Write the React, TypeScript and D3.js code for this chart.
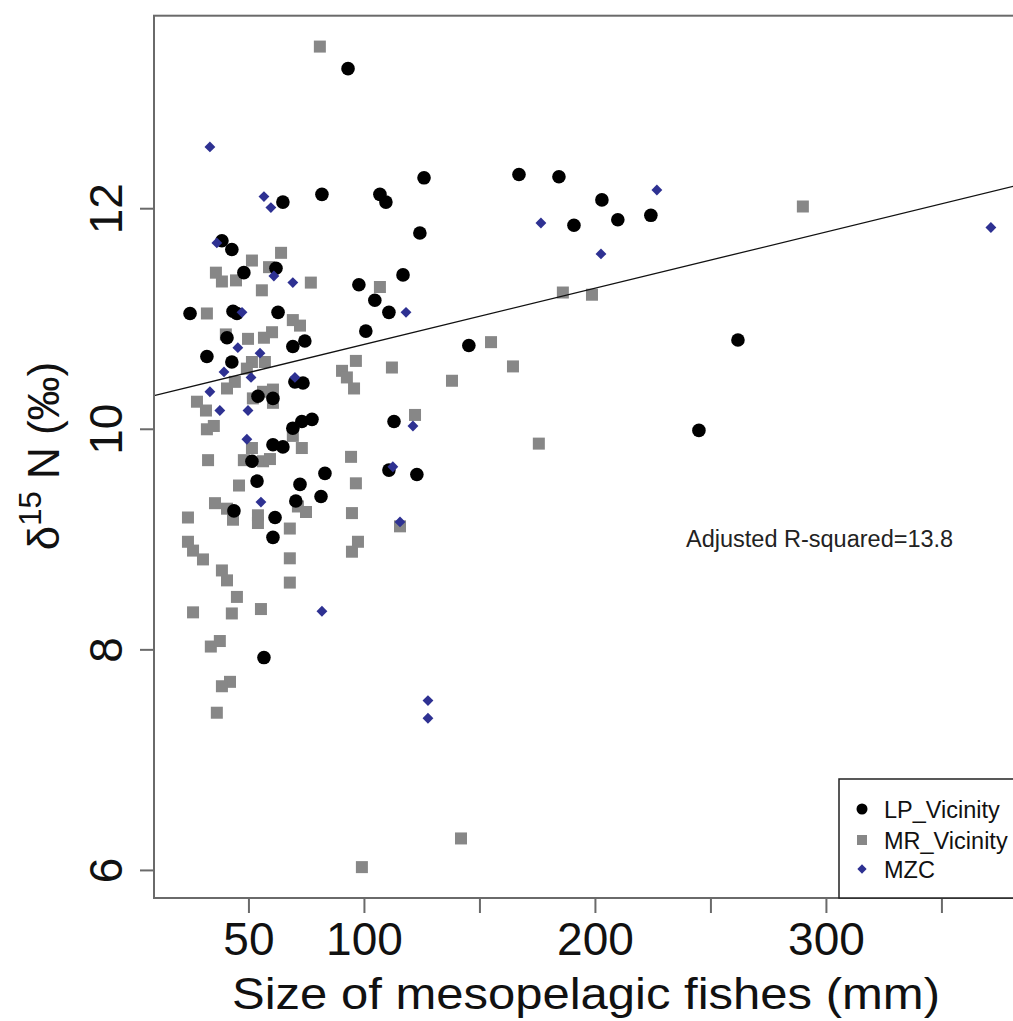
import React from "react";
import * as d3 from "d3";

const lpX = [92.9, 81.6, 106.7, 109.3, 64.7, 125.8, 166.9, 184.2, 202.8, 209.7, 224.0, 190.7, 124.0, 116.7, 97.6, 104.5, 110.6, 100.6, 145.2, 261.7, 244.8, 38.3, 42.6, 47.8, 61.7, 24.5, 43.1, 44.8, 62.6, 40.5, 69.0, 74.2, 31.8, 42.6, 69.9, 73.4, 53.9, 60.4, 69.0, 72.9, 77.3, 112.8, 60.4, 64.7, 51.3, 82.9, 53.5, 72.1, 81.2, 70.3, 43.5, 61.3, 60.4, 110.6, 122.7, 56.5];
const lpY = [13.27, 12.13, 12.13, 12.06, 12.06, 12.28, 12.31, 12.29, 12.08, 11.90, 11.94, 11.85, 11.78, 11.40, 11.31, 11.17, 11.06, 10.89, 10.76, 10.81, 9.99, 11.71, 11.63, 11.42, 11.46, 11.05, 11.07, 11.05, 11.06, 10.83, 10.75, 10.80, 10.66, 10.61, 10.43, 10.42, 10.30, 10.28, 10.01, 10.07, 10.09, 10.07, 9.86, 9.84, 9.71, 9.60, 9.53, 9.50, 9.39, 9.35, 9.26, 9.20, 9.02, 9.63, 9.59, 7.93];

const mrX = [80.7, 63.9, 51.3, 58.7, 35.7, 38.3, 44.4, 76.8, 55.6, 31.8, 69.0, 72.1, 60.0, 56.5, 49.6, 106.7, 40.0, 96.3, 111.9, 90.3, 92.4, 95.5, 51.3, 56.9, 49.1, 43.9, 40.5, 27.5, 31.4, 51.7, 56.1, 60.4, 60.4, 31.8, 34.8, 51.3, 69.0, 72.9, 32.3, 47.8, 56.1, 59.1, 94.2, 45.7, 96.3, 35.3, 40.5, 43.1, 53.9, 53.9, 67.7, 71.2, 74.7, 23.6, 94.6, 23.6, 25.8, 30.1, 38.3, 40.5, 44.8, 67.7, 67.7, 97.2, 94.6, 25.8, 42.6, 55.2, 33.5, 37.4, 41.8, 38.3, 36.1, 98.9, 141.8, 121.9, 115.4, 154.8, 164.3, 137.9, 175.5, 185.9, 198.5, 289.8];
const mrY = [13.47, 11.60, 11.53, 11.47, 11.42, 11.34, 11.35, 11.33, 11.26, 11.05, 10.99, 10.94, 10.88, 10.83, 10.82, 11.29, 10.86, 10.62, 10.56, 10.53, 10.47, 10.37, 10.61, 10.61, 10.55, 10.43, 10.37, 10.25, 10.17, 10.28, 10.34, 10.36, 10.24, 10.00, 10.03, 9.83, 9.94, 9.83, 9.72, 9.72, 9.71, 9.73, 9.75, 9.49, 9.51, 9.33, 9.28, 9.18, 9.22, 9.15, 9.10, 9.30, 9.25, 9.20, 9.24, 8.98, 8.90, 8.82, 8.72, 8.63, 8.48, 8.83, 8.61, 8.98, 8.89, 8.34, 8.33, 8.37, 8.03, 8.08, 7.71, 7.67, 7.43, 6.03, 6.29, 10.13, 9.12, 10.79, 10.57, 10.44, 9.87, 11.24, 11.22, 12.02];

const mzcX = [33.1, 56.5, 59.5, 36.1, 69.0, 60.8, 47.0, 45.2, 54.8, 39.2, 50.9, 69.9, 33.1, 37.4, 49.6, 49.1, 55.2, 81.6, 112.3, 121.0, 115.4, 127.5, 127.5, 176.4, 202.4, 226.6, 371.2, 118.0];
const mzcY = [12.56, 12.11, 12.01, 11.69, 11.33, 11.39, 11.06, 10.74, 10.69, 10.52, 10.47, 10.47, 10.34, 10.17, 10.17, 9.91, 9.34, 8.35, 9.66, 10.03, 9.16, 7.54, 7.38, 11.87, 11.59, 12.17, 11.83, 11.06];

const xTickValues = [50, 100, 150, 200, 250, 300, 350];
const xTickLabels = ["50", "100", "", "200", "", "300", ""];
const yTickValues = [6, 8, 10, 12];
const yTickLabels = ["6", "8", "10", "12"];

const fitIntercept = 10.26;
const fitSlope = 0.0051;

const legendNames = ["LP_Vicinity", "MR_Vicinity", "MZC"];
const annotation = "Adjusted R-squared=13.8";

const FONT = "'Liberation Sans', Arial, Helvetica, sans-serif";

export default function App() {
  const W = 1013;
  const H = 1021;
  const left = 154;
  const right = 1020;
  const top = 15.7;
  const bottom = 898;

  const x = d3.scaleLinear().domain([8.9, 383.8]).range([left, right]);
  const y = d3.scaleLinear().domain([5.75, 13.75]).range([bottom, top]);

  const axisColor = "#6a6a6a";
  const gray = "#878787";
  const navy = "#2E3192";

  const diamond = d3.symbol().type(d3.symbolDiamond2).size(75)();

  const xMin = x.domain()[0];
  const xMax = x.domain()[1];

  const legendY = [809, 840, 869];

  return (
    <svg
      width={W}
      height={H}
      style={{ position: "absolute", left: 0, top: 0, display: "block", background: "#fff" }}
      fontFamily={FONT}
    >
      <defs>
        <clipPath id="plotclip">
          <rect x={left} y={top} width={right - left} height={bottom - top} />
        </clipPath>
      </defs>
      <rect x={0} y={0} width={W} height={H} fill="#fff" />

      <g clipPath="url(#plotclip)">
        {mrX.map((v, i) => (
          <rect key={"mr" + i} x={x(v) - 6} y={y(mrY[i]) - 6} width={12} height={12} fill={gray} />
        ))}
        {lpX.map((v, i) => (
          <circle key={"lp" + i} cx={x(v)} cy={y(lpY[i])} r={6.8} fill="#000" />
        ))}
        {mzcX.map((v, i) => (
          <path key={"mz" + i} d={diamond as string} transform={`translate(${x(v)},${y(mzcY[i])})`} fill={navy} />
        ))}
        <line
          x1={x(xMin)}
          y1={y(fitIntercept + fitSlope * xMin)}
          x2={x(xMax)}
          y2={y(fitIntercept + fitSlope * xMax)}
          stroke="#111"
          strokeWidth={1.3}
        />
      </g>

      {/* plot box */}
      <rect x={left} y={top} width={right - left} height={bottom - top} fill="none" stroke={axisColor} strokeWidth={2} />

      {/* x axis ticks */}
      {xTickValues.map((v, i) => (
        <g key={"xt" + i}>
          <line x1={x(v)} x2={x(v)} y1={bottom} y2={bottom + 15} stroke={axisColor} strokeWidth={2} />
          {xTickLabels[i] ? (
            <text x={x(v)} y={955} textAnchor="middle" fontSize={46} fill="#111">
              {xTickLabels[i]}
            </text>
          ) : null}
        </g>
      ))}

      {/* y axis ticks */}
      {yTickValues.map((v, i) => (
        <g key={"yt" + i}>
          <line x1={left - 14} x2={left} y1={y(v)} y2={y(v)} stroke={axisColor} strokeWidth={2} />
          <text
            transform={`translate(122,${y(v)}) rotate(-90)`}
            textAnchor="middle"
            fontSize={46}
            fill="#111"
          >
            {yTickLabels[i]}
          </text>
        </g>
      ))}

      {/* axis titles */}
      <text x={586} y={1009} textAnchor="middle" fontSize={44} textLength={708} lengthAdjust="spacingAndGlyphs" fill="#111">
        Size of mesopelagic fishes (mm)
      </text>
      <text transform={`translate(59,456) rotate(-90)`} textAnchor="middle" fontSize={44} fill="#111">
        <tspan>δ</tspan>
        <tspan fontSize={31} dy={-18}>15</tspan>
        <tspan dy={18}> N (‰)</tspan>
      </text>

      {/* annotation */}
      <text x={686} y={547} fontSize={23.5} fill="#222">
        {annotation}
      </text>

      {/* legend */}
      <rect x={839} y={779} width={200} height={bottom - 779} fill="#fff" stroke="#222" strokeWidth={1.5} />
      <circle cx={862} cy={legendY[0]} r={5.5} fill="#000" />
      <rect x={862 - 5} y={legendY[1] - 5} width={10} height={10} fill={gray} />
      <path d={d3.symbol().type(d3.symbolDiamond2).size(55)() as string} transform={`translate(862,${legendY[2]})`} fill={navy} />
      {legendNames.map((n, i) => (
        <text key={"lg" + i} x={884} y={legendY[i] + 8.5} fontSize={23.5} fill="#111">
          {n}
        </text>
      ))}
    </svg>
  );
}
